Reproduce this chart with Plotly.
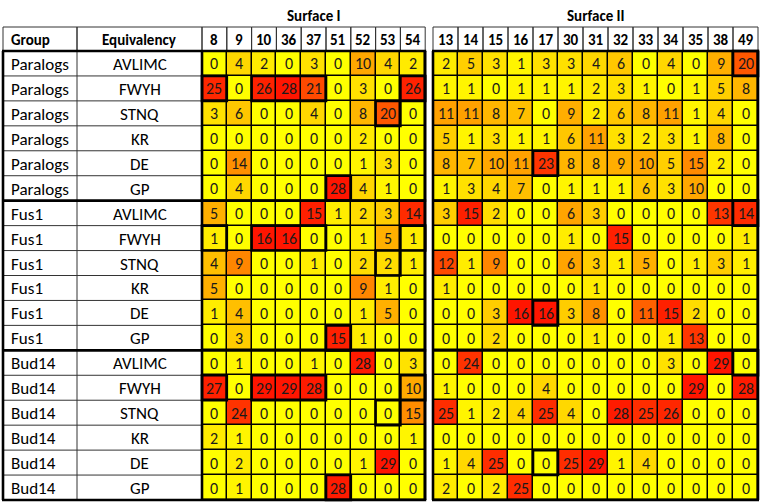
import plotly.graph_objects as go
import numpy as np

# ---------------- data ----------------
surface1_cols = ["8", "9", "10", "36", "37", "51", "52", "53", "54"]
surface2_cols = ["13", "14", "15", "16", "17", "30", "31", "32", "33", "34", "35", "38", "49"]
groups = ["Paralogs", "Fus1", "Bud14"]
equivalencies = ["AVLIMC", "FWYH", "STNQ", "KR", "DE", "GP"]

paralogs_s1 = [
    [0, 4, 2, 0, 3, 0, 10, 4, 2],
    [25, 0, 26, 28, 21, 0, 3, 0, 26],
    [3, 6, 0, 0, 4, 0, 8, 20, 0],
    [0, 0, 0, 0, 0, 0, 2, 0, 0],
    [0, 14, 0, 0, 0, 0, 1, 3, 0],
    [0, 4, 0, 0, 0, 28, 4, 1, 0],
]
paralogs_s2 = [
    [2, 5, 3, 1, 3, 3, 4, 6, 0, 4, 0, 9, 20],
    [1, 1, 0, 1, 1, 1, 2, 3, 1, 0, 1, 5, 8],
    [11, 11, 8, 7, 0, 9, 2, 6, 8, 11, 1, 4, 0],
    [5, 1, 3, 1, 1, 6, 11, 3, 2, 3, 1, 8, 0],
    [8, 7, 10, 11, 23, 8, 8, 9, 10, 5, 15, 2, 0],
    [1, 3, 4, 7, 0, 1, 1, 1, 6, 3, 10, 0, 0],
]
fus1_s1 = [
    [5, 0, 0, 0, 15, 1, 2, 3, 14],
    [1, 0, 16, 16, 0, 0, 1, 5, 1],
    [4, 9, 0, 0, 1, 0, 2, 2, 1],
    [5, 0, 0, 0, 0, 0, 9, 1, 0],
    [1, 4, 0, 0, 0, 0, 1, 5, 0],
    [0, 3, 0, 0, 0, 15, 1, 0, 0],
]
fus1_s2 = [
    [3, 15, 2, 0, 0, 6, 3, 0, 0, 0, 0, 13, 14],
    [0, 0, 0, 0, 0, 1, 0, 15, 0, 0, 0, 0, 1],
    [12, 1, 9, 0, 0, 6, 3, 1, 5, 0, 1, 3, 1],
    [1, 0, 0, 0, 0, 0, 1, 0, 0, 0, 0, 0, 0],
    [0, 0, 3, 16, 16, 3, 8, 0, 11, 15, 2, 0, 0],
    [0, 0, 2, 0, 0, 0, 1, 0, 0, 1, 13, 0, 0],
]
bud14_s1 = [
    [0, 1, 0, 0, 1, 0, 28, 0, 3],
    [27, 0, 29, 29, 28, 0, 0, 0, 10],
    [0, 24, 0, 0, 0, 0, 0, 0, 15],
    [2, 1, 0, 0, 0, 0, 0, 0, 1],
    [0, 2, 0, 0, 0, 0, 1, 29, 0],
    [0, 1, 0, 0, 0, 28, 0, 0, 0],
]
bud14_s2 = [
    [0, 24, 0, 0, 0, 0, 0, 0, 0, 3, 0, 29, 0],
    [1, 0, 0, 0, 4, 0, 0, 0, 0, 0, 29, 0, 28],
    [25, 1, 2, 4, 25, 4, 0, 28, 25, 26, 0, 0, 0],
    [0, 0, 0, 0, 0, 0, 0, 0, 0, 0, 0, 0, 0],
    [1, 4, 25, 0, 0, 25, 29, 1, 4, 0, 0, 0, 0],
    [2, 0, 2, 25, 0, 0, 0, 0, 0, 0, 0, 0, 0],
]

# expected-position cells that carry a thick outline (equivalency, columns)
boxed_cells = [
    ("FWYH", ["8"]), ("FWYH", ["10", "36", "37"]), ("FWYH", ["54"]),
    ("STNQ", ["53"]), ("GP", ["51"]), ("DE", ["17"]), ("AVLIMC", ["49"]),
]

# ---------------- layout constants (pixels) ----------------
W, H = 760, 502
X_LEFT, X_EQ, X_S1 = 3, 77, 202
S1_W = 24.8
X_S1_END = X_S1 + S1_W * len(surface1_cols)
X_S2 = 433
X_RIGHT = 758
S2_W = (X_RIGHT - X_S2) / len(surface2_cols)
Y_TOP, Y_H2, Y_DATA = 3, 27, 51
Y_BOTTOM = 500
n_rows = len(groups) * len(equivalencies)
ROW_H = (Y_BOTTOM - Y_DATA) / n_rows

FONT = "Calibri, Carlito, Lato, sans-serif"
THIN = "#333333"
LABEL_SIZE = 17
NUM_SIZE = 16
HEAD_SIZE = 15

colorscale = [
    [0.0, "#FFFF00"], [0.15, "#FFD500"], [0.35, "#FFA800"],
    [0.6, "#FF8000"], [0.8, "#FF3800"], [1.0, "#FF1500"],
]

s1_vals = np.array(paralogs_s1 + fus1_s1 + bud14_s1, dtype=float)
s2_vals = np.array(paralogs_s2 + fus1_s2 + bud14_s2, dtype=float)
group_max = []
for gs1, gs2 in [(paralogs_s1, paralogs_s2), (fus1_s1, fus1_s2), (bud14_s1, bud14_s2)]:
    group_max += [max(np.max(gs1), np.max(gs2))] * len(equivalencies)
group_max = np.array(group_max, dtype=float)[:, None]

y_edges = [Y_DATA + j * ROW_H for j in range(n_rows + 1)]

fig = go.Figure()


def add_block(vals, x0, cw, ncols):
    x_edges = [x0 + i * cw for i in range(ncols + 1)]
    fig.add_shape(type="rect", x0=x0, x1=x_edges[-1], y0=Y_DATA, y1=Y_BOTTOM,
                  fillcolor="black", line=dict(width=0), layer="below")
    fig.add_trace(go.Heatmap(
        x=x_edges, y=y_edges, z=vals / group_max,
        text=vals.astype(int).astype(str), texttemplate="%{text}",
        textfont=dict(family=FONT, size=NUM_SIZE, color="#1a1a1a"),
        colorscale=colorscale, zmin=0, zmax=1, showscale=False,
        xgap=1.5, ygap=1.5, hoverinfo="skip",
    ))
    return x_edges


s1_edges = add_block(s1_vals, X_S1, S1_W, len(surface1_cols))
s2_edges = add_block(s2_vals, X_S2, S2_W, len(surface2_cols))

shapes = []
annotations = []


def line(x0, y0, x1, y1, w=1, color=THIN):
    shapes.append(dict(type="line", x0=x0, y0=y0, x1=x1, y1=y1,
                       line=dict(color=color, width=w)))


def rect(x0, y0, x1, y1, w=1, color=THIN):
    shapes.append(dict(type="rect", x0=x0, y0=y0, x1=x1, y1=y1,
                       line=dict(color=color, width=w)))


def text(x, y, s, size=15, bold=False, anchor="center"):
    annotations.append(dict(x=x, y=y, text=f"<b>{s}</b>" if bold else s,
                            showarrow=False, xanchor=anchor, yanchor="middle",
                            font=dict(family=FONT, size=size, color="black")))


# surface header boxes
rect(X_S1, Y_TOP, X_S1_END, Y_H2)
rect(X_S2, Y_TOP, X_RIGHT, Y_H2)
text((X_S1 + X_S1_END) / 2, (Y_TOP + Y_H2) / 2 + 1, "Surface I", HEAD_SIZE, True)
text((X_S2 + X_RIGHT) / 2, (Y_TOP + Y_H2) / 2 + 1, "Surface II", HEAD_SIZE, True)

# column header row
yh = (Y_H2 + Y_DATA) / 2 + 1
rect(X_LEFT, Y_H2, X_EQ, Y_DATA)
rect(X_EQ, Y_H2, X_S1, Y_DATA)
text(X_LEFT + 6, yh, "Group", HEAD_SIZE, True, "left")
text((X_EQ + X_S1) / 2, yh, "Equivalency", HEAD_SIZE, True)
for edges, cols in [(s1_edges, surface1_cols), (s2_edges, surface2_cols)]:
    for i, c in enumerate(cols):
        rect(edges[i], Y_H2, edges[i + 1], Y_DATA)
        text((edges[i] + edges[i + 1]) / 2, yh, c, HEAD_SIZE, True)

# label columns
for gi, g in enumerate(groups):
    for ei, e in enumerate(equivalencies):
        r = gi * len(equivalencies) + ei
        yc = (y_edges[r] + y_edges[r + 1]) / 2 + 1
        line(X_LEFT, y_edges[r + 1], X_S1, y_edges[r + 1])
        text(X_LEFT + 6, yc, g, LABEL_SIZE, False, "left")
        text((X_EQ + X_S1) / 2, yc, e, LABEL_SIZE)
line(X_EQ, Y_DATA, X_EQ, Y_BOTTOM)

# thick structure lines
TW = 2.6
for x0, x1 in [(X_LEFT, X_S1_END), (X_S2, X_RIGHT)]:
    for gi in range(len(groups) + 1):
        yy = y_edges[gi * len(equivalencies)]
        line(x0 - 1, yy, x1 + 1, yy, TW, "black")
for xx in [X_LEFT, X_S1, X_S1_END, X_S2, X_RIGHT]:
    line(xx, Y_DATA, xx, Y_BOTTOM, TW, "black")

# boxed expected cells
col_pos = {}
for i, c in enumerate(surface1_cols):
    col_pos[c] = (s1_edges[i], s1_edges[i + 1])
for i, c in enumerate(surface2_cols):
    col_pos[c] = (s2_edges[i], s2_edges[i + 1])
for gi in range(len(groups)):
    for eq, cols in boxed_cells:
        r = gi * len(equivalencies) + equivalencies.index(eq)
        rect(col_pos[cols[0]][0], y_edges[r], col_pos[cols[-1]][1], y_edges[r + 1], TW, "black")

fig.update_layout(
    width=W, height=H, margin=dict(l=0, r=0, t=0, b=0),
    paper_bgcolor="white", plot_bgcolor="white",
    xaxis=dict(range=[0, W], visible=False, fixedrange=True),
    yaxis=dict(range=[H, 0], visible=False, fixedrange=True),
    shapes=shapes, annotations=annotations, showlegend=False,
)

fig.write_html(
    "out.html",
    config={"displayModeBar": False},
    post_script="document.body.style.margin='0';document.body.style.overflow='hidden';",
)
